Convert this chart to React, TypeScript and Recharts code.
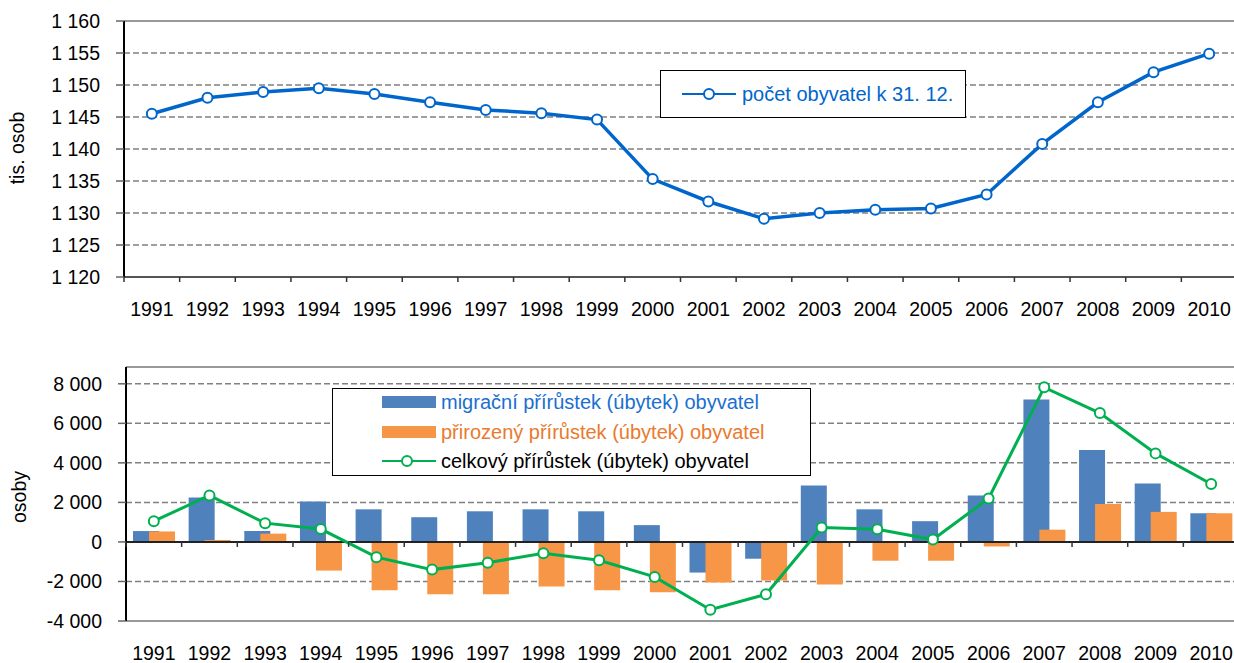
import React from "react";
import {
  LineChart, Line, ComposedChart, Bar, XAxis, YAxis,
  CartesianGrid, ReferenceLine, Legend,
} from "recharts";

const years = [
  "1991", "1992", "1993", "1994", "1995", "1996", "1997", "1998", "1999", "2000",
  "2001", "2002", "2003", "2004", "2005", "2006", "2007", "2008", "2009", "2010",
];

// počet obyvatel k 31. 12. (tis. osob)
const population = [
  1145.5, 1148.0, 1148.9, 1149.5, 1148.6, 1147.3, 1146.1, 1145.6, 1144.6, 1135.3,
  1131.8, 1129.1, 1130.0, 1130.5, 1130.7, 1132.9, 1140.8, 1147.3, 1152.0, 1154.9,
];

// osoby
const migration = [
  550, 2250, 550, 2050, 1650, 1250, 1550, 1650, 1550, 850,
  -1550, -850, 2850, 1650, 1050, 2350, 7200, 4650, 2950, 1450,
];
const natural = [
  530, 100, 420, -1450, -2450, -2650, -2650, -2250, -2450, -2550,
  -2050, -1950, -2150, -950, -950, -230, 620, 1920, 1520, 1450,
];
const total = [
  1050, 2350, 950, 650, -770, -1400, -1050, -570, -930, -1770,
  -3430, -2650, 730, 640, 120, 2200, 7820, 6520, 4480, 2930,
];

const popTicks = [1120, 1125, 1130, 1135, 1140, 1145, 1150, 1155, 1160];
const changeTicks = [-4000, -2000, 0, 2000, 4000, 6000, 8000];

const FONT = "'Liberation Sans', Arial, sans-serif";
const TICK_FS = 19.5;
const LEGEND_FS = 20;
const BLUE_LINE = "#0066CC";
const BAR_BLUE = "#4F81BD";
const BAR_ORANGE = "#F79646";
const GREEN = "#00B050";
const GRID = "#808080";

const BAND = 1113 / 20;
const CH_MIN = -4000;
const CH_MAX = 8850;
const CH_PLOT_H = 254;
const ZERO_UP = ((0 - CH_MIN) / (CH_MAX - CH_MIN)) * CH_PLOT_H;

const popData = years.map((year, i) => ({ year, value: population[i] }));
const changeData = years.map((year, i) => ({
  year, migration: migration[i], natural: natural[i], total: total[i],
}));

function fmt(v: number) {
  return String(v).replace(/\B(?=(\d{3})+(?!\d))/g, " ");
}

// eslint-disable-next-line @typescript-eslint/no-explicit-any
function YearTick({ x, y, payload, labelGap, markUp }: any) {
  const bx = x - BAND / 2;
  return (
    <g>
      <line x1={bx} x2={bx} y1={y - markUp} y2={y - markUp + 5} stroke="#333" strokeWidth={1.5} />
      <text x={x} y={y + labelGap} dy="0.35em" textAnchor="middle" fontSize={TICK_FS} fill="#000" fontFamily={FONT}>
        {payload.value}
      </text>
    </g>
  );
}

function AxisTitle({ cx, cy, text }: { cx: number; cy: number; text: string }) {
  return (
    <text
      x={cx} y={cy} dy="0.35em" textAnchor="middle" fontSize={TICK_FS} fill="#000" fontFamily={FONT}
      transform={`rotate(-90 ${cx} ${cy})`}
    >
      {text}
    </text>
  );
}

function PopLegend() {
  return (
    <div style={{
      position: "relative", boxSizing: "border-box", width: 306, height: 48,
      border: "1.5px solid #000", background: "#fff", fontFamily: FONT,
    }}>
      <svg width={60} height={20} style={{ position: "absolute", left: 20, top: 13 }}>
        <line x1={1} x2={55} y1={10} y2={10} stroke={BLUE_LINE} strokeWidth={2} />
        <circle cx={28} cy={10} r={5} fill="#fff" stroke={BLUE_LINE} strokeWidth={2} />
      </svg>
      <span style={{
        position: "absolute", left: 81, top: 11, fontSize: LEGEND_FS, lineHeight: "24px",
        color: BLUE_LINE, whiteSpace: "nowrap",
      }}>
        počet obyvatel k 31. 12.
      </span>
    </div>
  );
}

const changeLegendRows = [
  { label: "migrační přírůstek (úbytek) obyvatel", color: "#1A6FD0", kind: "bar", fill: BAR_BLUE },
  { label: "přirozený přírůstek (úbytek) obyvatel", color: "#E97A2E", kind: "bar", fill: BAR_ORANGE },
  { label: "celkový přírůstek (úbytek) obyvatel", color: "#000", kind: "line", fill: GREEN },
];

function ChangeLegend() {
  return (
    <div style={{
      position: "relative", boxSizing: "border-box", width: 479, height: 88,
      border: "1.5px solid #000", background: "#fff", fontFamily: FONT,
    }}>
      {changeLegendRows.map((r, i) => {
        const cy = 13 + i * 29.5;
        return (
          <React.Fragment key={r.label}>
            <svg width={60} height={20} style={{ position: "absolute", left: 48, top: cy - 10 }}>
              {r.kind === "bar" ? (
                <rect x={1} y={4} width={54} height={12} fill={r.fill} />
              ) : (
                <>
                  <line x1={1} x2={55} y1={10} y2={10} stroke={GREEN} strokeWidth={2} />
                  <circle cx={26} cy={10} r={5} fill="#fff" stroke={GREEN} strokeWidth={2} />
                </>
              )}
            </svg>
            <span style={{
              position: "absolute", left: 108, top: cy - 12, fontSize: LEGEND_FS, lineHeight: "24px",
              color: r.color, whiteSpace: "nowrap",
            }}>
              {r.label}
            </span>
          </React.Fragment>
        );
      })}
    </div>
  );
}

const tickStyle = { fontSize: TICK_FS, fill: "#000", fontFamily: FONT };

export default function App() {
  return (
    <div style={{ position: "absolute", left: 0, top: 0, width: 1234, height: 663, overflow: "hidden", background: "#fff", fontFamily: FONT }}>
      <div style={{ position: "absolute", left: 0, top: 0 }}>
        <LineChart width={1240} height={330} data={popData} margin={{ top: 21, right: 3, left: 0, bottom: 13 }}>
          <CartesianGrid vertical={false} stroke={GRID} strokeDasharray="6 3" strokeWidth={1.5} />
          <XAxis
            dataKey="year"
            scale="band"
            interval={0}
            height={40}
            tickSize={0}
            tickMargin={0}
            axisLine={{ stroke: "#555", strokeWidth: 2 }}
            tickLine={false}
            tick={(p: any) => <YearTick {...p} labelGap={32.5} markUp={0} />}
          />
          <YAxis
            width={124}
            domain={[1120, 1160]}
            ticks={popTicks}
            interval={0}
            tickFormatter={fmt}
            tickSize={8}
            tickMargin={16}
            tick={tickStyle}
            axisLine={{ stroke: "#000", strokeWidth: 2 }}
            tickLine={{ stroke: "#666", strokeWidth: 1.5 }}
            label={<AxisTitle cx={17} cy={148} text="tis. osob" />}
          />
          <ReferenceLine y={1160} stroke="#999" strokeWidth={2} />
          <Legend
            layout="horizontal"
            verticalAlign="middle"
            align="center"
            wrapperStyle={{ left: 660, top: 70, width: 306, height: 48 }}
            content={() => <PopLegend />}
          />
          <Line
            dataKey="value"
            stroke={BLUE_LINE}
            strokeWidth={3.5}
            dot={{ r: 5, fill: "#fff", stroke: BLUE_LINE, strokeWidth: 2 }}
            isAnimationActive={false}
          />
        </LineChart>
      </div>
      <div style={{ position: "absolute", left: 0, top: 330 }}>
        <ComposedChart
          width={1242}
          height={333}
          data={changeData}
          margin={{ top: 37, right: 3, left: 0, bottom: 2 }}
          barSize={26}
          barGap={-10}
        >
          <CartesianGrid vertical={false} stroke={GRID} strokeDasharray="6 3" strokeWidth={1.5} />
          <XAxis
            dataKey="year"
            interval={0}
            height={40}
            tickSize={0}
            tickMargin={0}
            axisLine={{ stroke: "#999", strokeWidth: 2 }}
            tickLine={false}
            tick={(p: any) => <YearTick {...p} labelGap={32} markUp={ZERO_UP} />}
          />
          <YAxis
            width={126}
            domain={[CH_MIN, CH_MAX]}
            ticks={changeTicks}
            interval={0}
            tickFormatter={fmt}
            tickSize={8}
            tickMargin={16}
            tick={tickStyle}
            axisLine={{ stroke: "#000", strokeWidth: 2 }}
            tickLine={{ stroke: "#666", strokeWidth: 1.5 }}
            label={<AxisTitle cx={19} cy={167} text="osoby" />}
          />
          <ReferenceLine y={CH_MAX} stroke="#999" strokeWidth={2} />
          <Legend
            layout="horizontal"
            verticalAlign="middle"
            align="center"
            wrapperStyle={{ left: 332, top: 58, width: 479, height: 88 }}
            content={() => <ChangeLegend />}
          />
          <Bar dataKey="migration" fill={BAR_BLUE} isAnimationActive={false} />
          <Bar dataKey="natural" fill={BAR_ORANGE} isAnimationActive={false} />
          <ReferenceLine y={0} stroke="#222" strokeWidth={2} />
          <Line
            dataKey="total"
            stroke={GREEN}
            strokeWidth={3}
            dot={{ r: 5, fill: "#fff", stroke: GREEN, strokeWidth: 2 }}
            isAnimationActive={false}
          />
        </ComposedChart>
      </div>
    </div>
  );
}
